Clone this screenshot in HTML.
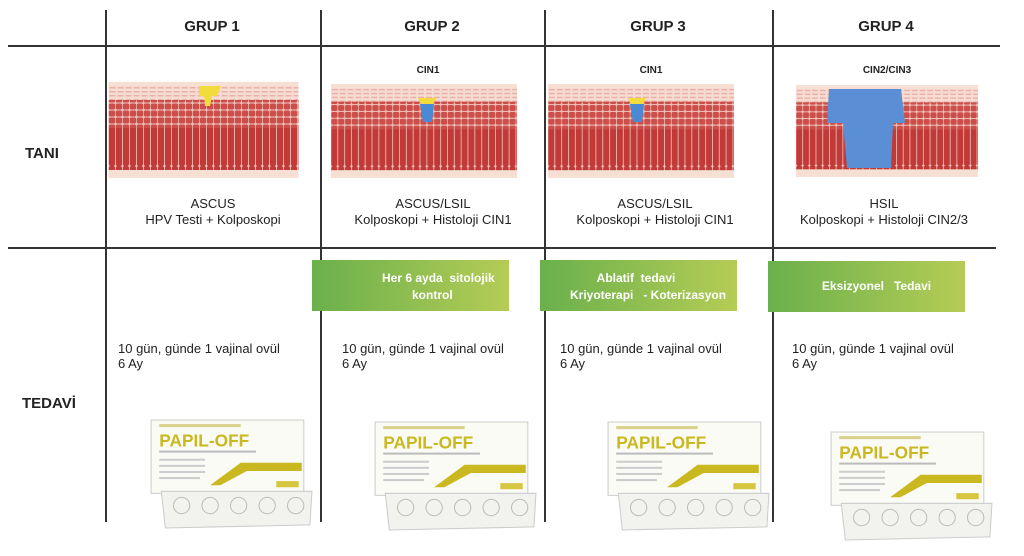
<!DOCTYPE html>
<html><head><meta charset="utf-8"><style>
body{margin:0;width:1024px;height:556px;background:#fff;position:relative;overflow:hidden;font-family:"Liberation Sans",sans-serif;color:#222}
.a{position:absolute}
.vl{position:absolute;width:2px;background:#333;top:10px;height:512px}
.hl{position:absolute;height:2px;background:#333;left:8px}
.h{position:absolute;top:18px;font-weight:bold;font-size:15px;text-align:center;width:200px}
.cin{position:absolute;top:65px;font-weight:bold;font-size:10px;text-align:center;width:200px}
.cap{position:absolute;top:196px;font-size:13px;text-align:center;width:230px;line-height:16px}
.g{position:absolute;height:51px;background:linear-gradient(90deg,#6ab04c,#b5cc55);color:#fff;font-weight:bold;font-size:12px;text-align:center;line-height:17px}
.t{position:absolute;top:341px;font-size:13px;line-height:15px}
</style></head><body>
<svg width="0" height="0" style="position:absolute"><defs>
<pattern id="col" width="7" height="42" patternUnits="userSpaceOnUse"><rect width="7" height="42" fill="#f0c8c0"/><rect x="0.3" width="6.2" height="42" rx="2" fill="#c23a38"/></pattern>
<pattern id="mid" width="7" height="7" patternUnits="userSpaceOnUse"><rect width="7" height="7" fill="#eec2ba"/><rect x="0.3" y="0.5" width="6.3" height="6" rx="1.5" fill="#cc4e4a"/></pattern>
<pattern id="top" width="8" height="4" patternUnits="userSpaceOnUse"><rect width="8" height="4" fill="#f6dcd2"/><rect x="1" y="1" width="6" height="1.5" fill="#eab0a8"/></pattern>
<symbol id="tis" viewBox="0 0 190 96"><rect width="190" height="96" fill="#f6e0d4"/><rect y="4" width="190" height="14" fill="url(#top)"/><rect y="18" width="190" height="28" fill="url(#mid)"/><rect y="46" width="190" height="42" fill="url(#col)"/></symbol>
<symbol id="box" viewBox="0 0 160 110">
<rect x="2" y="2" width="150" height="72" fill="#fbfbf6" stroke="#ccc"/>
<rect x="10" y="6" width="80" height="3" fill="#d9d28a"/>
<text x="10" y="28" font-family="Liberation Sans" font-weight="bold" font-size="17" fill="#c9b81f">PAPIL-OFF</text>
<rect x="10" y="32" width="95" height="2" fill="#bbb"/>
<rect x="10" y="40" width="45" height="2" fill="#ccc"/><rect x="10" y="46" width="45" height="2" fill="#ccc"/><rect x="10" y="52" width="45" height="2" fill="#ccc"/><rect x="10" y="58" width="40" height="2" fill="#ccc"/>
<path d="M60 66 L90 44 L150 44 L150 52 L96 52 L70 66Z" fill="#c9b81f"/>
<rect x="125" y="62" width="22" height="6" fill="#d6c640"/>
<path d="M12 72 L160 72 L158 105 L16 108Z" fill="#f2f2ef" stroke="#ccc"/>
<g fill="none" stroke="#bbb"><circle cx="32" cy="86" r="8"/><circle cx="60" cy="86" r="8"/><circle cx="88" cy="86" r="8"/><circle cx="116" cy="86" r="8"/><circle cx="144" cy="86" r="8"/></g>
</symbol>
</defs></svg>

<div class="hl" style="top:45px;width:992px"></div>
<div class="hl" style="top:247px;width:988px"></div>
<div class="vl" style="left:105px"></div>
<div class="vl" style="left:320px"></div>
<div class="vl" style="left:544px"></div>
<div class="vl" style="left:772px"></div>

<div class="h" style="left:112px">GRUP 1</div>
<div class="h" style="left:332px">GRUP 2</div>
<div class="h" style="left:558px">GRUP 3</div>
<div class="h" style="left:786px">GRUP 4</div>
<div class="cin" style="left:328px">CIN1</div>
<div class="cin" style="left:551px">CIN1</div>
<div class="cin" style="left:787px">CIN2/CIN3</div>

<div class="a" style="left:25px;top:145px;font-weight:bold;font-size:15px">TANI</div>
<div class="a" style="left:22px;top:395px;font-weight:bold;font-size:15px">TEDAVİ</div>

<svg class="a" style="left:107px;top:82px" width="193" height="96"><use href="#tis" width="193" height="96" preserveAspectRatio="none"/><path d="M92 4 h22 l-4 10 h-5 l-2 10 h-5 l-1-10 h-5z" fill="#f1dc3c"/></svg>
<svg class="a" style="left:330px;top:84px" width="188" height="94"><use href="#tis" width="188" height="94" preserveAspectRatio="none"/><path d="M88 14 h18 l-3 6 h-12z" fill="#f1dc3c"/><path d="M90 20 h14 l-2 18 h-9z" fill="#4a8ad4"/></svg>
<svg class="a" style="left:546px;top:84px" width="190" height="94"><use href="#tis" width="190" height="94" preserveAspectRatio="none"/><path d="M82 14 h18 l-3 6 h-12z" fill="#f1dc3c"/><path d="M84 20 h14 l-2 18 h-9z" fill="#4a8ad4"/></svg>
<svg class="a" style="left:791px;top:85px" width="192" height="92"><use href="#tis" width="192" height="92" preserveAspectRatio="none"/><path d="M38 4 h72 l4 34 h-12 l-2 45 h-44 l-4-45 h-16z" fill="#5a8fd6"/></svg>

<div class="cap" style="left:98px">ASCUS<br>HPV Testi + Kolposkopi</div>
<div class="cap" style="left:318px">ASCUS/LSIL<br>Kolposkopi + Histoloji CIN1</div>
<div class="cap" style="left:540px">ASCUS/LSIL<br>Kolposkopi + Histoloji CIN1</div>
<div class="cap" style="left:769px">HSIL<br>Kolposkopi + Histoloji CIN2/3</div>

<div class="g" style="left:312px;top:260px;width:197px"><div style="padding:10px 0 0 70px;text-align:left;width:120px">Her 6 ayda&nbsp; sitolojik<br><span style="padding-left:30px">kontrol</span></div></div>
<div class="g" style="left:540px;top:260px;width:197px;overflow:hidden;white-space:nowrap"><div style="padding:10px 0 0 30px;text-align:left">&nbsp;&nbsp;&nbsp;&nbsp;&nbsp;&nbsp;&nbsp;&nbsp;Ablatif&nbsp; tedavi<br>Kriyoterapi&nbsp;&nbsp; - Koterizasyon</div></div>
<div class="g" style="left:768px;top:261px;width:197px;line-height:51px"><span style="padding-left:20px">Eksizyonel&nbsp;&nbsp; Tedavi</span></div>

<div class="t" style="left:118px">10 gün, günde 1 vajinal ovül<br>6 Ay</div>
<div class="t" style="left:342px">10 gün, günde 1 vajinal ovül<br>6 Ay</div>
<div class="t" style="left:560px">10 gün, günde 1 vajinal ovül<br>6 Ay</div>
<div class="t" style="left:792px">10 gün, günde 1 vajinal ovül<br>6 Ay</div>

<svg class="a" style="left:148px;top:418px" width="165" height="112"><use href="#box" width="165" height="112"/></svg>
<svg class="a" style="left:372px;top:420px" width="165" height="112"><use href="#box" width="165" height="112"/></svg>
<svg class="a" style="left:605px;top:420px" width="165" height="112"><use href="#box" width="165" height="112"/></svg>
<svg class="a" style="left:828px;top:430px" width="165" height="112"><use href="#box" width="165" height="112"/></svg>
</body></html>
